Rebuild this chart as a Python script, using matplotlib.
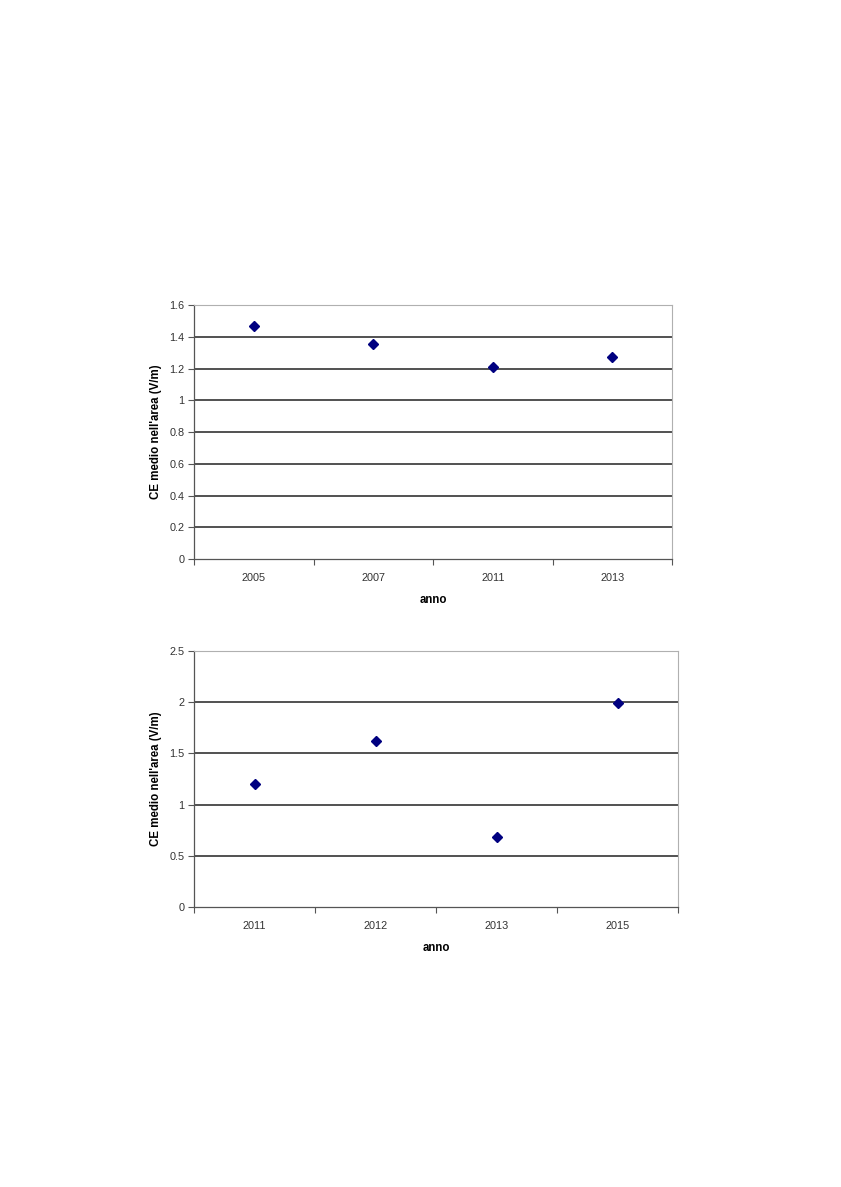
import matplotlib.pyplot as plt
from matplotlib.ticker import FixedLocator, FormatStrFormatter

plt.rcParams['font.family'] = ['Liberation Sans', 'DejaVu Sans']

# data
years_top = ["2005", "2007", "2011", "2013"]
ce_top = [1.47, 1.355, 1.21, 1.27]
yticks_top = [0, 0.2, 0.4, 0.6, 0.8, 1, 1.2, 1.4, 1.6]

years_bottom = ["2011", "2012", "2013", "2015"]
ce_bottom = [1.2, 1.62, 0.68, 1.99]
yticks_bottom = [0, 0.5, 1, 1.5, 2, 2.5]

YLABEL = "CE medio nell'area (V/m)"
XLABEL = "anno"


def draw_panel(ax, cats, vals, yticks):
    x = list(range(len(cats)))
    # horizontal grid lines (not at 0 and top)
    for yt in yticks[1:-1]:
        ax.axhline(yt, color="#222222", lw=1.1, zorder=1)
    ax.plot(x, vals, linestyle="none", marker="D", markersize=5.5,
            color="#000080", zorder=3)
    ax.set_xlim(-0.5, len(cats) - 0.5)
    ax.set_ylim(yticks[0], yticks[-1])
    ax.set_yticks(yticks)
    ax.yaxis.set_major_formatter(FormatStrFormatter("%g"))
    ax.set_xticks(x)
    ax.set_xticklabels(cats)
    ax.xaxis.set_minor_locator(FixedLocator([i - 0.5 for i in range(len(cats) + 1)]))
    ax.tick_params(axis="x", which="major", length=0, pad=10, labelsize=7.8, colors="#333333")
    ax.tick_params(axis="x", which="minor", length=4, width=0.8, color="#555555")
    ax.tick_params(axis="y", length=4, width=0.8, color="#555555", labelsize=7.8,
                   labelcolor="#333333", pad=3)
    for side in ("top", "right"):
        ax.spines[side].set_color("#b0b0b0")
        ax.spines[side].set_linewidth(0.8)
    for side in ("left", "bottom"):
        ax.spines[side].set_color("#555555")
        ax.spines[side].set_linewidth(0.9)
    ax.set_ylabel(YLABEL, fontsize=8.3, fontweight="bold", labelpad=5)
    ax.set_xlabel(XLABEL, fontsize=8.3, fontweight="bold", labelpad=8)


fig = plt.figure(figsize=(8.41, 11.87), dpi=100)
ax1 = fig.add_axes([194 / 841, 1 - 559 / 1187, (672 - 194) / 841, (559 - 305) / 1187])
ax2 = fig.add_axes([194 / 841, 1 - 907 / 1187, (678 - 194) / 841, (907 - 651) / 1187])

draw_panel(ax1, years_top, ce_top, yticks_top)
draw_panel(ax2, years_bottom, ce_bottom, yticks_bottom)

fig.savefig("out.png", dpi=100)
